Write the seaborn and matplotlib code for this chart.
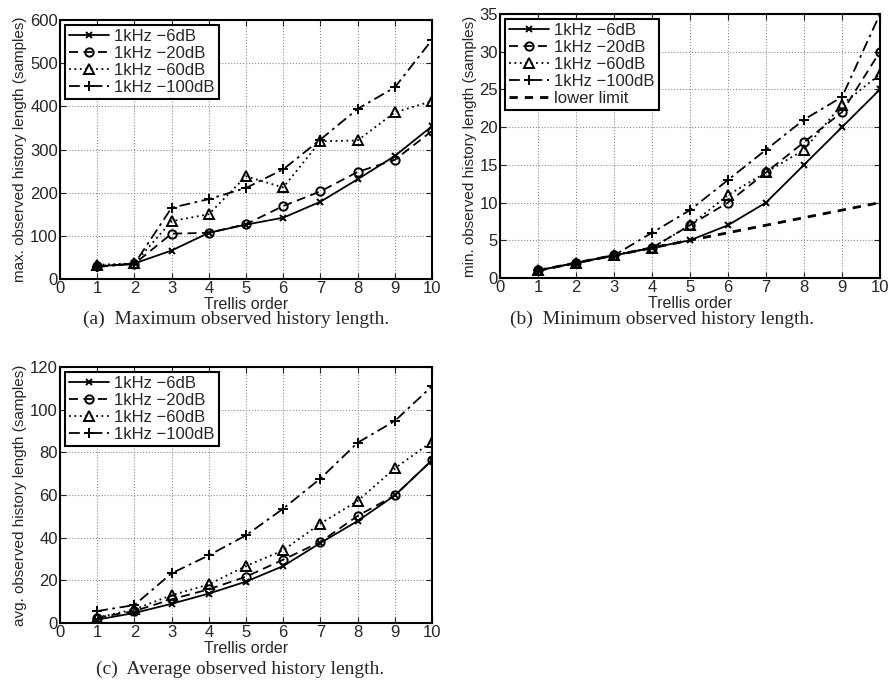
import numpy as np
import pandas as pd
import matplotlib
matplotlib.use("Agg")
import matplotlib.pyplot as plt
import seaborn as sns

# Werte
order = [1, 2, 3, 4, 5, 6, 7, 8, 9, 10]
labels = ["1kHz \u22126dB", "1kHz \u221220dB", "1kHz \u221260dB", "1kHz \u2212100dB"]

max_6 = [29, 36, 66, 107, 126, 142, 179, 231, 285, 354]
max_20 = [30, 35, 105, 107, 127, 169, 203, 248, 276, 343]
max_60 = [33, 36, 134, 150, 238, 212, 319, 321, 386, 412]
max_100 = [28, 35, 165, 185, 211, 254, 323, 394, 444, 554]

min_6 = [1, 2, 3, 4, 5, 7, 10, 15, 20, 25]
min_20 = [1, 2, 3, 4, 7, 10, 14, 18, 22, 30]
min_60 = [1, 2, 3, 4, 7, 11, 14, 17, 23, 27]
min_100 = [1, 2, 3, 6, 9, 13, 17, 21, 24, 35]
lower_limit = [1, 2, 3, 4, 5, 6, 7, 8, 9, 10]

avg_6 = [1.6, 4.7, 9.0, 13.8, 19.4, 26.7, 37.5, 47.8, 59.8, 76.3]
avg_20 = [2.5, 5.6, 11.1, 15.8, 21.7, 29.7, 38.0, 50.2, 59.8, 76.3]
avg_60 = [2.5, 6.4, 13.0, 18.1, 26.7, 34.1, 46.6, 57.2, 72.5, 85.0]
avg_100 = [5.6, 8.4, 23.3, 31.7, 41.1, 53.6, 67.7, 84.5, 94.7, 111.0]

styles = [
    dict(ls="-", marker="x", ms=4),
    dict(ls=(0, (5, 3)), marker="o", ms=6),
    dict(ls=(0, (1, 2)), marker="^", ms=7),
    dict(ls=(0, (6, 2.5, 1.5, 2.5)), marker="+", ms=6.5),
]

sns.set_style("ticks")
plt.rcParams["font.family"] = ["Liberation Sans", "DejaVu Sans"]

fig = plt.figure(figsize=(8.91, 6.84), dpi=100)
W, H = 891, 684


def box(x0, y0, x1, y1):
    return [x0 / W, 1 - y1 / H, (x1 - x0) / W, (y1 - y0) / H]


def panel(ax, series, ylim, yticks, ylabel, extra=None):
    for lab, vals, st in zip(labels, series, styles):
        df = pd.DataFrame({"order": order, "value": vals})
        sns.lineplot(data=df, x="order", y="value", ax=ax, color="black",
                     linewidth=1.3, label=lab)
        line = ax.lines[-1]
        line.set_linestyle(st["ls"])
        line.set_marker(st["marker"])
        line.set_markersize(st["ms"])
        line.set_markeredgewidth(1.4)
        line.set_markeredgecolor("black")
        line.set_markerfacecolor("none")
    if extra is not None:
        df = pd.DataFrame({"order": order, "value": extra})
        sns.lineplot(data=df, x="order", y="value", ax=ax, color="black",
                     linewidth=2.0, label="lower limit")
        ax.lines[-1].set_linestyle((0, (3, 2.5)))
    ax.set_xlim(0, 10)
    ax.set_ylim(*ylim)
    ax.set_xticks(range(0, 11))
    ax.set_yticks(yticks)
    ax.grid(True, color="0.55", linestyle=":", linewidth=0.8)
    ax.set_xlabel("Trellis order", fontsize=11.5, labelpad=0.5)
    ax.set_ylabel(ylabel, fontsize=11, labelpad=2)
    ax.tick_params(direction="in", top=True, right=True, labelsize=12, pad=1.5, length=4, width=0.8)
    for s in ax.spines.values():
        s.set_linewidth(1.5)
        s.set_color("black")
    leg = ax.legend(loc="upper left", fontsize=12, frameon=True, fancybox=False,
                    edgecolor="black", framealpha=1, borderaxespad=0.3,
                    handlelength=2.4, handletextpad=0.3, labelspacing=0.12,
                    borderpad=0.25)
    leg.get_frame().set_linewidth(1.5)


ax_a = fig.add_axes(box(60, 20, 432, 279))
panel(ax_a, [max_6, max_20, max_60, max_100], (0, 600), range(0, 601, 100),
      "max. observed history length (samples)")

ax_b = fig.add_axes(box(500, 14, 880, 278))
panel(ax_b, [min_6, min_20, min_60, min_100], (0, 35), range(0, 36, 5),
      "min. observed history length (samples)", extra=lower_limit)

ax_c = fig.add_axes(box(60, 367, 432, 623))
panel(ax_c, [avg_6, avg_20, avg_60, avg_100], (0, 120), range(0, 121, 20),
      "avg. observed history length (samples)")

serif = ["Liberation Serif", "DejaVu Serif"]
fig.text(236 / W, 1 - 319 / H, "(a)  Maximum observed history length.", ha="center",
         va="center", fontsize=14, family=serif)
fig.text(662 / W, 1 - 319 / H, "(b)  Minimum observed history length.", ha="center",
         va="center", fontsize=14, family=serif)
fig.text(240 / W, 1 - 669 / H, "(c)  Average observed history length.", ha="center",
         va="center", fontsize=14, family=serif)

fig.savefig("out.png", dpi=100)
